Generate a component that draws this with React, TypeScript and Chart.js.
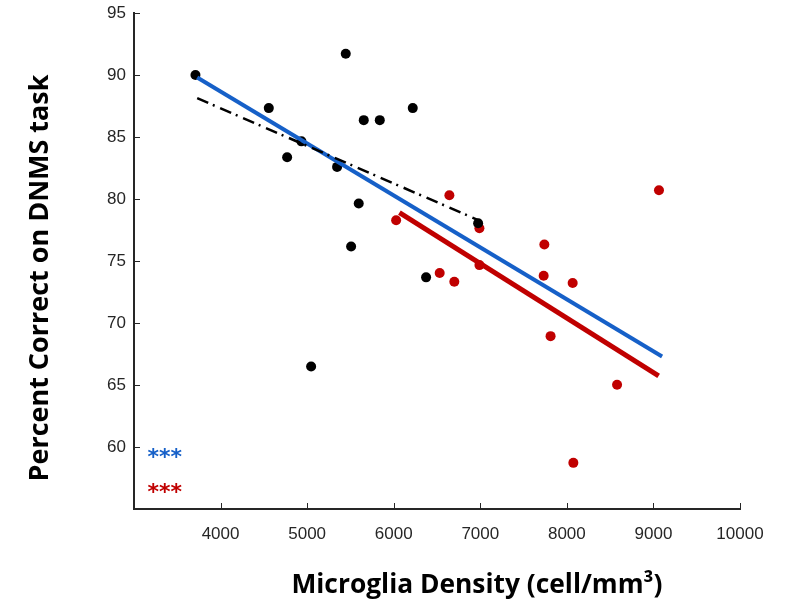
import React, { useEffect, useRef } from "react";
import { Chart, registerables } from "chart.js";

Chart.register(...registerables);

// Group 1 (black) points
const blackDensity = [3710, 4557, 4769, 4934, 5346, 5446, 5596, 5654, 5508, 5839, 6220, 6374, 5046, 6975];
const blackScore = [90.0, 87.33, 83.36, 84.65, 82.59, 91.71, 79.64, 86.36, 76.17, 86.36, 87.33, 73.68, 66.49, 78.04];

// Group 2 (red) points
const redDensity = [6028, 6643, 6990, 6990, 6531, 6700, 7740, 7732, 8067, 9064, 7812, 8580, 8075];
const redScore = [78.28, 80.3, 77.64, 74.67, 74.03, 73.33, 76.33, 73.81, 73.23, 80.71, 68.94, 65.02, 58.72];

// Fitted lines
const blueFitX = [3730, 9100];
const blueFitY = [89.8, 67.3];
const redFitX = [6066, 9060];
const redFitY = [78.9, 65.74];
const blackFitX = [3730, 6975];
const blackFitY = [88.13, 78.3];

// Axes
const xTicks = [4000, 5000, 6000, 7000, 8000, 9000, 10000];
const yTicks = [60, 65, 70, 75, 80, 85, 90, 95];
const xTitle = "Microglia Density (cell/mm³)";
const yTitle = "Percent Correct on DNMS task";

// Significance markers
const markerText = ["***", "***"];
const markerX = [3156, 3156];
const markerY = [59.69, 56.83];

const BLUE = "#1660c8";
const RED = "#c00000";
const AXIS = "#262626";
const markerColor = [BLUE, RED];

const toPts = (xs: number[], ys: number[]) => xs.map((x, i) => ({ x, y: ys[i] }));

function fitFont(ctx: CanvasRenderingContext2D, text: string, family: string, target: number) {
  ctx.font = `bold 24px ${family}`;
  const w = ctx.measureText(text).width;
  const size = (24 * target) / w;
  ctx.font = `bold ${size.toFixed(2)}px ${family}`;
}

const overlay = {
  id: "overlay",
  afterDraw(chart: any) {
    const { ctx, chartArea, scales } = chart;
    const xs = scales.x;
    const ys = scales.y;
    ctx.save();
    ctx.strokeStyle = AXIS;
    ctx.lineWidth = 1;
    xTicks.forEach((v) => {
      const px = Math.round(xs.getPixelForValue(v)) + 0.5;
      ctx.beginPath();
      ctx.moveTo(px, chartArea.bottom);
      ctx.lineTo(px, chartArea.bottom - 6);
      ctx.stroke();
    });
    yTicks.forEach((v) => {
      const py = Math.round(ys.getPixelForValue(v)) + 0.5;
      ctx.beginPath();
      ctx.moveTo(chartArea.left, py);
      ctx.lineTo(chartArea.left + 6, py);
      ctx.stroke();
    });

    // significance markers
    ctx.font = "bold 22px 'DejaVu Sans'";
    ctx.textAlign = "left";
    ctx.textBaseline = "alphabetic";
    markerText.forEach((t, i) => {
      ctx.fillStyle = markerColor[i];
      const px = xs.getPixelForValue(markerX[i]);
      const py = ys.getPixelForValue(markerY[i]);
      ctx.fillText(t, px, py + 13);
    });

    // axis titles
    ctx.fillStyle = "#000";
    ctx.textAlign = "center";
    ctx.textBaseline = "alphabetic";
    fitFont(ctx, xTitle, "'Open Sans'", 371);
    ctx.fillText(xTitle, 477, 593);

    ctx.translate(48, 278);
    ctx.rotate(-Math.PI / 2);
    fitFont(ctx, yTitle, "'Open Sans'", 407);
    ctx.fillText(yTitle, 0, 0);
    ctx.restore();
  },
};

export default function App() {
  const ref = useRef<HTMLCanvasElement | null>(null);

  useEffect(() => {
    if (!ref.current) return;
    const chart = new Chart(ref.current, {
      type: "scatter",
      data: {
        datasets: [
          {
            label: "black fit",
            data: toPts(blackFitX, blackFitY),
            showLine: true,
            borderColor: "#000",
            borderWidth: 2.5,
            borderDash: [12, 5, 2, 6],
            pointRadius: 0,
            fill: false,
          },
          {
            label: "blue fit",
            data: toPts(blueFitX, blueFitY),
            showLine: true,
            borderColor: BLUE,
            borderWidth: 4,
            pointRadius: 0,
            fill: false,
          },
          {
            label: "red fit",
            data: toPts(redFitX, redFitY),
            showLine: true,
            borderColor: RED,
            borderWidth: 5,
            pointRadius: 0,
            fill: false,
          },
          {
            label: "group 1",
            data: toPts(blackDensity, blackScore),
            backgroundColor: "#000",
            borderColor: "#000",
            pointRadius: 5,
            borderWidth: 0,
          },
          {
            label: "group 2",
            data: toPts(redDensity, redScore),
            backgroundColor: RED,
            borderColor: RED,
            pointRadius: 5,
            borderWidth: 0,
          },
        ],
      },
      options: {
        responsive: false,
        animation: false,
        layout: { padding: { top: 13, right: 55, left: 0, bottom: 0 } },
        plugins: { legend: { display: false }, tooltip: { enabled: false } },
        scales: {
          x: {
            type: "linear",
            min: 3000,
            max: 10000,
            afterFit: (s: any) => {
              s.height = 94;
              s.paddingLeft = 0;
              s.paddingRight = 0;
            },
            afterBuildTicks: (s: any) => {
              s.ticks = [3000, ...xTicks].map((v) => ({ value: v }));
            },
            ticks: {
              padding: 15,
              color: AXIS,
              font: { family: "'Liberation Sans', Arial", size: 17 },
              maxRotation: 0,
              callback: (v: any) => (xTicks.includes(Number(v)) ? String(v) : ""),
            },
            grid: { drawOnChartArea: false, drawTicks: false },
            border: { display: true, color: AXIS, width: 2 },
          },
          y: {
            type: "linear",
            min: 55,
            max: 95,
            afterFit: (s: any) => {
              s.width = 134;
              s.paddingTop = 0;
              s.paddingBottom = 0;
            },
            afterBuildTicks: (s: any) => {
              s.ticks = [55, ...yTicks].map((v) => ({ value: v }));
            },
            ticks: {
              padding: 8,
              color: AXIS,
              font: { family: "'Liberation Sans', Arial", size: 17 },
              callback: (v: any) => (yTicks.includes(Number(v)) ? String(v) : ""),
            },
            grid: { drawOnChartArea: false, drawTicks: false },
            border: { display: true, color: AXIS, width: 2 },
          },
        },
      },
      plugins: [overlay],
    });
    return () => chart.destroy();
  }, []);

  return (
    <div style={{ position: "absolute", left: 0, top: 0, width: 795, height: 603, background: "#fff" }}>
      <canvas ref={ref} width={795} height={603} style={{ display: "block" }} />
    </div>
  );
}
